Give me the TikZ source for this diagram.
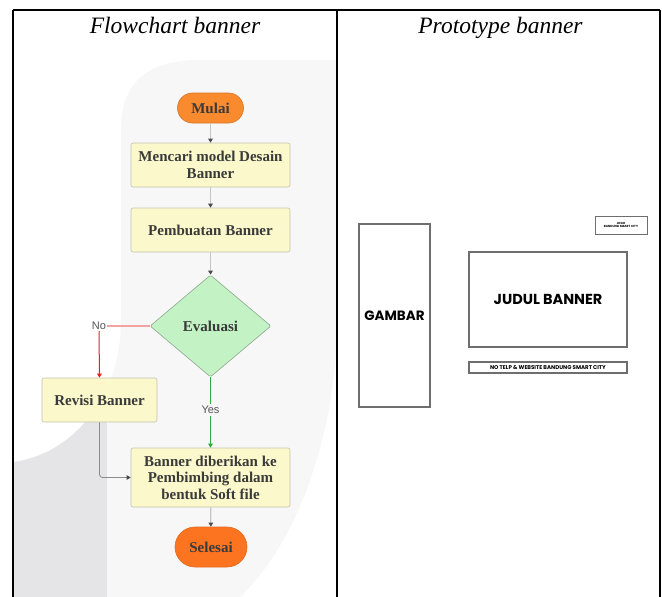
\documentclass[tikz,border=0pt]{standalone}
\usepackage{fontspec}
\setmainfont{Liberation Serif}
\newfontfamily\sansf{Liberation Sans}
\newfontfamily\popf{Poppins}
\usetikzlibrary{shapes.geometric,arrows.meta}
\definecolor{bgl}{HTML}{F7F7F8}
\definecolor{bgd}{HTML}{E5E5E8}
\definecolor{orA}{HTML}{FA8A2E}
\definecolor{orB}{HTML}{FD7420}
\definecolor{orBd}{HTML}{E06A1E}
\definecolor{yel}{HTML}{FBF9CC}
\definecolor{yelb}{HTML}{C4C3AE}
\definecolor{grn}{HTML}{C3F3C5}
\definecolor{grnb}{HTML}{8DA88F}
\definecolor{txt}{HTML}{3A3A3A}
\definecolor{ln}{HTML}{C4C4C4}
\definecolor{hd}{HTML}{4A4A4A}
\definecolor{gline}{HTML}{2DA845}
\definecolor{rline}{HTML}{E52222}
\definecolor{pline}{HTML}{F4A3A3}
\definecolor{boxb}{HTML}{6E6E6E}
\definecolor{lbl}{HTML}{555555}
\tikzset{
  fctext/.style={font=\bfseries\fontsize{15}{16.5}\selectfont, text=txt, align=center},
  proc/.style={fctext, draw=yelb, fill=yel, rounded corners=2pt, minimum width=159pt, minimum height=44pt, inner sep=2pt, line width=0.6pt},
  term/.style={fctext, rounded corners=15pt, minimum height=30pt, inner sep=2pt, line width=0.6pt},
  decide/.style={fctext, diamond, draw=grnb, fill=grn, minimum width=121pt, minimum height=102pt, inner sep=0pt, line width=0.6pt, rounded corners=1.5pt},
  conn/.style={draw=ln, line width=1.2pt, -{Triangle[length=4pt,width=4.5pt,color=hd]}},
  yesline/.style={draw=gline, line width=1.2pt},
  noline/.style={draw=rline, line width=1pt},
  lab/.style={font=\sansf\fontsize{11}{12}\selectfont, text=lbl, inner sep=1pt},
  protobox/.style={draw=boxb, line width=1.1pt, font=\popf\bfseries, text=black, inner sep=0pt},
  frame/.style={draw=black, line width=1.8pt},
  title/.style={font=\itshape\fontsize{23.5}{25}\selectfont, inner sep=0pt, anchor=base}
}
\def\bgpath{(121,130) .. controls (121,80) and (150,60) .. (200,60) -- (337,60) -- (337,330) .. controls (335,430) and (300,540) .. (240,597) -- (13,597) -- (13,462) .. controls (70,455) and (121,400) .. (121,320) -- cycle}
\begin{document}
\begin{tikzpicture}[x=1pt,y=-1pt]
\useasboundingbox (0,0) rectangle (662,597);
\fill[white] (0,0) rectangle (662,597);
% background of the flowchart image
\fill[bgl] \bgpath;
\begin{scope}
  \clip \bgpath;
  \fill[bgd] (13,300) rectangle (107,597);
\end{scope}
% table frame
\draw[frame] (13,10) -- (660,10);
\draw[frame] (13,10) -- (13,597);
\draw[frame] (337,10) -- (337,597);
\draw[frame] (660,10) -- (660,597);
\node[title] (t1) at (175,33) {Flowchart banner};
\node[title] (t2) at (500.5,33) {Prototype banner};
% flowchart
\node[term, fill=orA, draw=orA!85!black, minimum width=66pt] (mulai) at (210.5,108) {Mulai};
\node[proc] (cari) at (210.5,165) {Mencari model Desain\\Banner};
\node[proc] (buat) at (210.5,230) {Pembuatan Banner};
\node[decide] (eval) at (210.5,326) {Evaluasi};
\node[proc, minimum width=115pt] (revisi) at (99.5,400) {Revisi Banner};
\node[proc, minimum height=59pt] (beri) at (210.5,477.5) {Banner diberikan ke\\Pembimbing dalam\\bentuk Soft file};
\node[term, fill=orB, draw=orBd, minimum width=72pt, minimum height=40pt, rounded corners=20pt] (selesai) at (211,547) {Selesai};
\node[lab] (no) at (99,326) {No};
\node[lab, fill=bgl, inner sep=2pt] (yes) at (210.5,410) {Yes};
\draw[conn] (mulai) -- (cari);
\draw[conn] (cari) -- (buat);
\draw[conn] (buat) -- (eval);
\draw[yesline] (eval.south) -- (yes.north);
\draw[yesline, -{Triangle[length=4pt,width=4.5pt]}] (yes.south) -- (beri.north);
\draw[draw=pline, line width=1.4pt] (eval.west) -- (no.east);
\draw[noline, -{Triangle[length=4pt,width=4.5pt]}] (no.south) -- (revisi.north);
\draw[draw=boxb!80, line width=0.8pt, rounded corners=3pt, -{Triangle[length=4pt,width=4.5pt,color=hd]}] (revisi.south) |- (beri.west);
\draw[conn] (beri) -- (selesai);
% prototype
\node[protobox, minimum width=71pt, minimum height=183pt, font=\popf\bfseries\fontsize{13.5}{15}\selectfont] (gambar) at (394.5,315.5) {GAMBAR};
\node[protobox, minimum width=158pt, minimum height=95pt, font=\popf\bfseries\fontsize{14.5}{16}\selectfont] (judul) at (548,299.5) {JUDUL BANNER};
\node[protobox, minimum width=158pt, minimum height=11pt, font=\popf\bfseries\fontsize{5.5}{6}\selectfont] (telp) at (548,367.5) {NO TELP \& WEBSITE BANDUNG SMART CITY};
\node[protobox, minimum width=52pt, minimum height=18pt, line width=0.9pt, align=center, font=\popf\bfseries\fontsize{3}{3.6}\selectfont] (logo) at (621,225) {LOGO\\BANDUNG SMART CITY};
\end{tikzpicture}
\end{document}
